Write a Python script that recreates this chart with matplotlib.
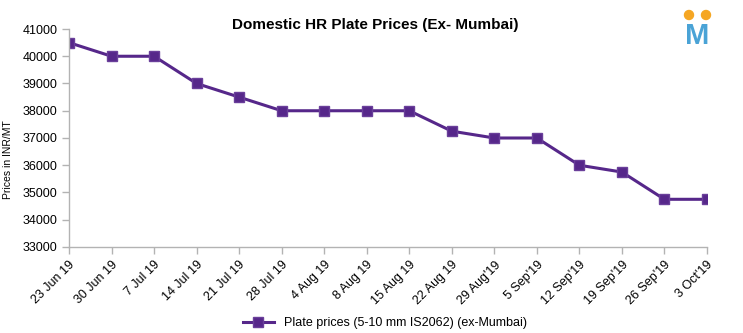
import matplotlib
matplotlib.use("Agg")
import matplotlib.pyplot as plt
from matplotlib.patches import Ellipse

plt.rcParams['font.family'] = ['Liberation Sans', 'DejaVu Sans']

dates = ["23 Jun 19", "30 Jun 19", "7 Jul 19", "14 Jul 19", "21 Jul 19", "28 Jul 19",
         "4 Aug 19", "8 Aug 19", "15 Aug 19", "22 Aug 19", "29 Aug'19", "5 Sep'19",
         "12 Sep'19", "19 Sep'19", "26 Sep'19", "3 Oct'19"]
prices = [40500, 40000, 40000, 39000, 38500, 38000, 38000, 38000, 38000, 37250,
          37000, 37000, 36000, 35750, 34750, 34750]
yticks = [33000, 34000, 35000, 36000, 37000, 38000, 39000, 40000, 41000]

color = '#56278a'
W, H = 743, 333
fig = plt.figure(figsize=(7.43, 3.33), dpi=100)
ax = fig.add_axes([0.0929, 0.2583, 0.8586, 0.6546])
x = list(range(len(dates)))
ax.plot(x, prices, color=color, lw=2.2, marker='s', ms=7.5, mfc=color, mec='#6a3f9a',
        label='Plate prices (5-10 mm IS2062) (ex-Mumbai)')
ax.set_xlim(0, len(dates) - 1)
ax.set_ylim(33000, 41000)
ax.set_yticks(yticks)
ax.set_xticks(x)
ax.set_xticklabels(dates, rotation=45, ha='right', rotation_mode='anchor', fontsize=9)
ax.tick_params(axis='y', labelsize=9, color='#b3b3b3', length=5, width=1)
ax.tick_params(axis='x', color='#b3b3b3', length=5, width=1)
for s in ['top', 'right']:
    ax.spines[s].set_visible(False)
for s in ['left', 'bottom']:
    ax.spines[s].set_color('#b3b3b3')
    ax.spines[s].set_linewidth(1)
fig.text(8 / W, 1 - 160 / H, 'Prices in INR/MT', rotation=90, ha='center', va='center',
         fontsize=7.5)
fig.text(0.505, 1 - 25 / H, 'Domestic HR Plate Prices (Ex- Mumbai)', ha='center', va='center',
         fontsize=11, fontweight='bold')
fig.legend(loc='center', bbox_to_anchor=(0.518, 0.03), frameon=False, fontsize=9,
           handlelength=2.5)

# logo
fig.text(697 / W, 1 - 36 / H, 'M', ha='center', va='center', fontsize=21, fontweight='bold',
         color='#4aa3d6')
for cx in (689, 706):
    fig.patches.append(Ellipse((cx / W, 1 - 15 / H), 9 / W, 9 / H, transform=fig.transFigure,
                               color='#f5a623', figure=fig))
fig.savefig('out.png', dpi=100)
